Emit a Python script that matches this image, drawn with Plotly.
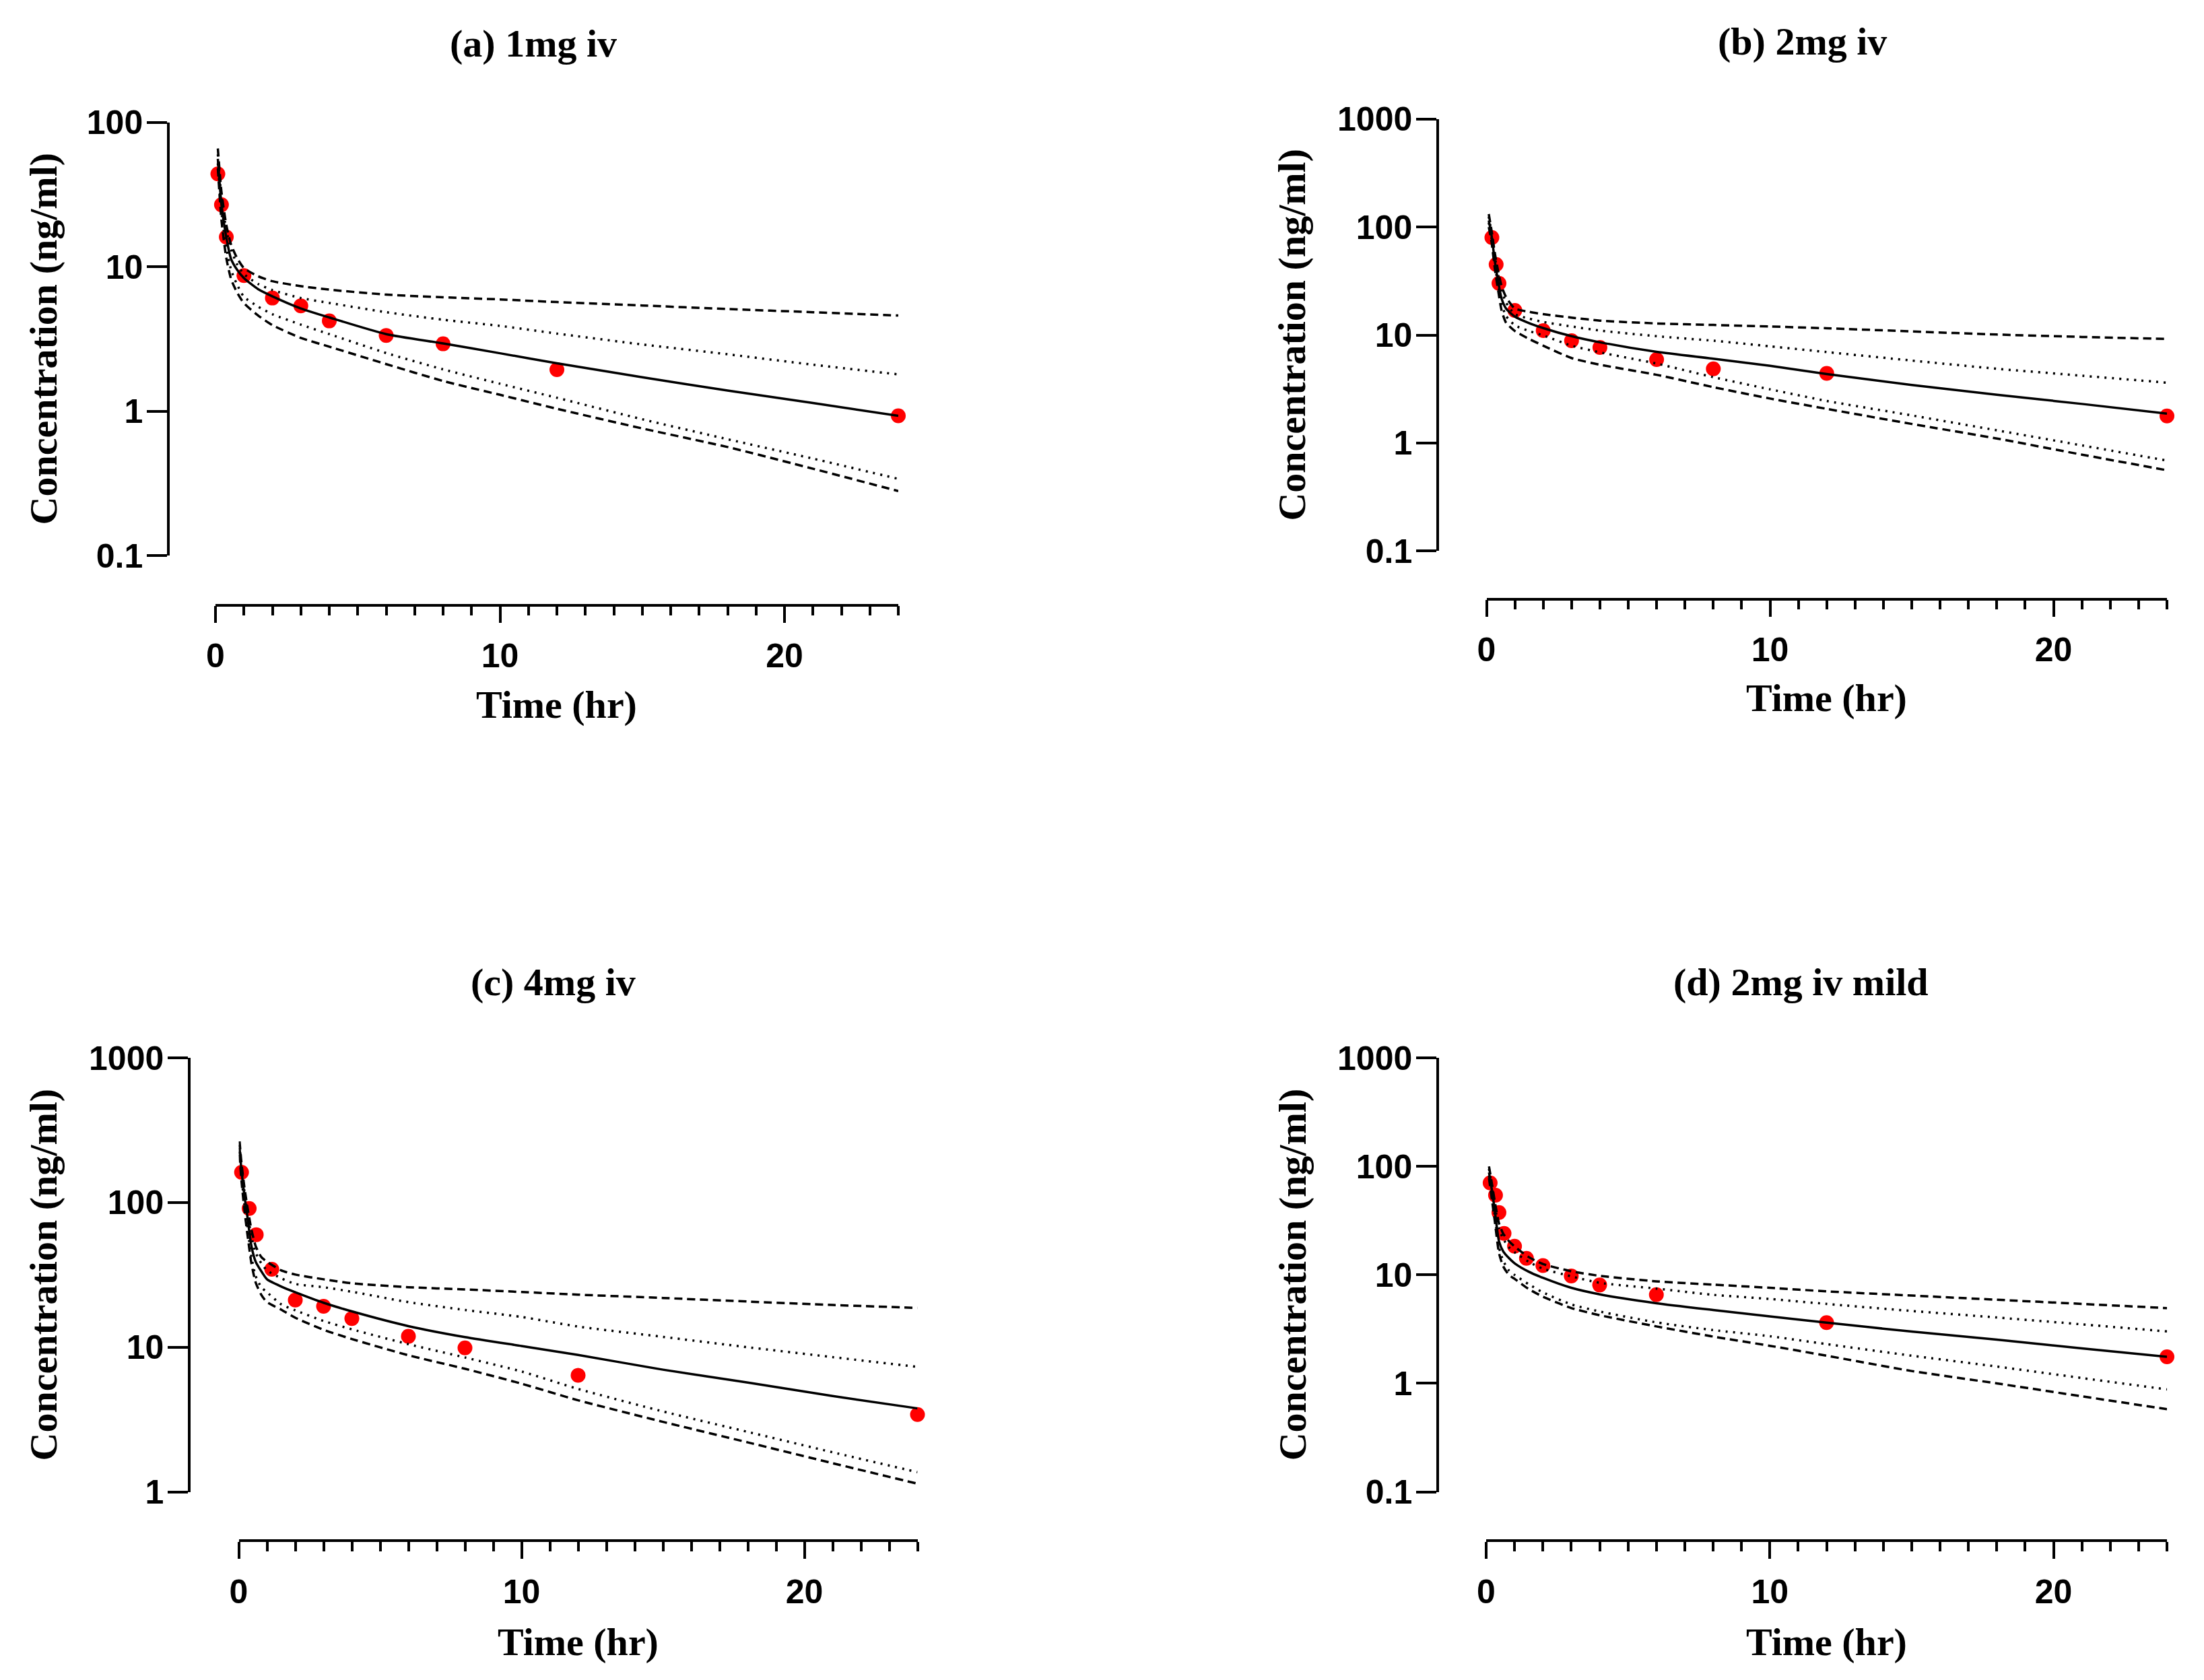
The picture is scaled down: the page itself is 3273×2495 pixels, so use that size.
import plotly.graph_objects as go

W, H = 3273, 2495

# ---------------- data ----------------
titles = ["(a) 1mg iv", "(b) 2mg iv", "(c) 4mg iv", "(d) 2mg iv mild"]

# (a) 1 mg iv
a_obs_t = [0.083, 0.21, 0.38, 1, 2, 3, 4, 6, 8, 12, 24]
a_obs_c = [44.0, 26.9, 16.1, 8.7, 6.08, 5.37, 4.22, 3.35, 2.93, 1.94, 0.93]
a_t = [0.083, 0.21, 0.38, 0.55, 0.75, 1, 1.5, 2, 3, 4, 6, 8, 10, 12, 15, 18, 21, 24]
a_med = [56, 27, 16, 11.3, 9.6, 8.35, 7.0, 6.25, 5.15, 4.46, 3.42, 2.95, 2.52, 2.15, 1.72, 1.39, 1.14, 0.93]
a_p95 = [66, 33, 19.5, 14.2, 11.6, 9.8, 8.6, 7.95, 7.35, 6.95, 6.42, 6.15, 5.95, 5.7, 5.4, 5.1, 4.85, 4.6]
a_p90 = [60, 30, 18, 13.2, 10.5, 8.9, 7.6, 6.9, 6.08, 5.62, 4.85, 4.3, 3.9, 3.45, 2.9, 2.48, 2.1, 1.8]
a_p10 = [52, 24, 13.5, 9.5, 7.6, 6.2, 5.3, 4.7, 3.98, 3.42, 2.53, 1.95, 1.55, 1.24, 0.88, 0.64, 0.47, 0.34]
a_p05 = [48, 21, 11.5, 8.2, 6.7, 5.6, 4.6, 3.95, 3.22, 2.8, 2.12, 1.62, 1.3, 1.04, 0.76, 0.565, 0.4, 0.28]

# (b) 2 mg iv
b_obs_t = [0.19, 0.34, 0.44, 1, 2, 3, 4, 6, 8, 12, 24]
b_obs_c = [80.0, 45.1, 30.1, 16.9, 11.0, 8.85, 7.67, 5.92, 4.86, 4.41, 1.78]
b_t = [0.08, 0.18, 0.3, 0.42, 0.53, 0.69, 1, 1.5, 2, 3, 4, 6, 8, 10, 12, 15, 18, 21, 24]
b_med = [115, 83, 47, 30.4, 21.8, 17.6, 14.8, 12.9, 11.6, 9.75, 8.56, 6.98, 6.03, 5.18, 4.35, 3.45, 2.8, 2.3, 1.87]
b_p95 = [132, 92, 56, 38, 28.5, 22.5, 17.6, 16.4, 15.6, 14.5, 13.6, 12.8, 12.4, 12.0, 11.55, 10.8, 10.1, 9.6, 9.2]
b_p90 = [125, 88, 52, 35, 26, 20, 15.6, 14.2, 13.2, 12.0, 11.0, 9.75, 8.86, 7.86, 6.95, 5.8, 4.87, 4.2, 3.62]
b_p10 = [110, 78, 44, 28, 19.5, 15, 12.3, 10.9, 9.9, 7.97, 6.91, 5.44, 4.07, 3.14, 2.45, 1.8, 1.31, 0.95, 0.687]
b_p05 = [100, 72, 40, 25, 17, 13, 10.9, 9.2, 7.97, 6.12, 5.31, 4.28, 3.29, 2.58, 2.07, 1.5, 1.1, 0.78, 0.559]

# (c) 4 mg iv
c_obs_t = [0.1, 0.37, 0.62, 1.17, 2, 3, 4, 6, 8, 12, 24]
c_obs_c = [162, 91, 60, 34.6, 21.2, 19.2, 15.8, 11.9, 9.9, 6.4, 3.43]
c_t = [0.03, 0.1, 0.2, 0.3, 0.45, 0.6, 0.8, 1, 1.5, 2, 3, 4, 6, 8, 10, 12, 15, 18, 21, 24]
c_med = [240, 165, 112, 82, 50, 39, 33.5, 29.5, 26.3, 24.0, 20.3, 17.7, 14.0, 11.75, 10.2, 8.85, 7.0, 5.7, 4.6, 3.78]
c_p95 = [265, 185, 128, 95, 65, 50, 42, 39, 34, 31.8, 29.5, 27.7, 26.0, 25.1, 24.1, 23.1, 21.9, 20.7, 19.6, 18.7]
c_p90 = [250, 175, 120, 88, 58, 45, 38, 34, 30, 27.4, 26.0, 24.2, 20.5, 18.1, 16.2, 13.9, 11.8, 10.0, 8.55, 7.32]
c_p10 = [225, 150, 98, 70, 42, 31, 26, 24, 19.8, 18.0, 15.2, 13.3, 10.5, 8.5, 6.8, 5.15, 3.6, 2.6, 1.88, 1.37]
c_p05 = [215, 140, 90, 62, 38, 28, 23, 20.5, 18.2, 16.0, 13.2, 11.4, 8.8, 7.1, 5.6, 4.3, 3.05, 2.2, 1.58, 1.14]

# (d) 2 mg iv mild
d_obs_t = [0.14, 0.33, 0.45, 0.63, 1, 1.42, 2, 3, 4, 6, 12, 24]
d_obs_c = [70.4, 54.3, 37.6, 24.1, 18.4, 14.2, 12.2, 9.76, 8.07, 6.57, 3.63, 1.76]
d_t = [0.1, 0.2, 0.3, 0.45, 0.6, 0.8, 1, 1.5, 2, 3, 4, 6, 8, 10, 12, 15, 18, 21, 24]
d_med = [88, 61, 40, 20.5, 16.5, 14.3, 12.8, 10.7, 9.4, 7.6, 6.62, 5.48, 4.75, 4.15, 3.63, 3.0, 2.53, 2.1, 1.76]
d_p95 = [100, 70, 48, 30, 24, 20.5, 18.3, 14.6, 12.6, 10.8, 9.8, 8.72, 8.13, 7.6, 7.05, 6.45, 5.9, 5.4, 4.94]
d_p90 = [95, 66, 45, 27, 21.5, 18, 16.2, 13.2, 11.4, 9.7, 8.45, 7.48, 6.55, 6.0, 5.4, 4.65, 4.05, 3.5, 3.01]
d_p10 = [82, 55, 36, 18, 13.5, 11, 10.0, 8.2, 6.9, 5.35, 4.6, 3.65, 3.1, 2.72, 2.3, 1.8, 1.43, 1.12, 0.88]
d_p05 = [78, 50, 32, 16, 12, 10, 9.2, 7.4, 6.3, 4.95, 4.25, 3.35, 2.7, 2.22, 1.8, 1.3, 1.0, 0.76, 0.578]

y_ticks_a = [0.1, 1, 10, 100]
y_ticks_bd = [0.1, 1, 10, 100, 1000]
y_ticks_c = [1, 10, 100, 1000]
x_ticks = [0, 10, 20]

# ---------------- layout geometry (pixels) ----------------
panels = [
    dict(title=titles[0], ot=a_obs_t, oc=a_obs_c, t=a_t, med=a_med, p95=a_p95, p90=a_p90, p10=a_p10, p05=a_p05,
         yt=y_ticks_a, yr=[-1, 2], x0=320, x1=1334, ytop=181.8, ybot=825.2, yax=250, xax=898.6,
         tx=792, ty=64, ytx=64, xty=1046),
    dict(title=titles[1], ot=b_obs_t, oc=b_obs_c, t=b_t, med=b_med, p95=b_p95, p90=b_p90, p10=b_p10, p05=b_p05,
         yt=y_ticks_bd, yr=[-1, 3], x0=2207.5, x1=3218, ytop=176.9, ybot=818.2, yax=2135, xax=889.5,
         tx=2676, ty=62, ytx=1919, xty=1036),
    dict(title=titles[2], ot=c_obs_t, oc=c_obs_c, t=c_t, med=c_med, p95=c_p95, p90=c_p90, p10=c_p10, p05=c_p05,
         yt=y_ticks_c, yr=[0, 3], x0=354.5, x1=1362.5, ytop=1571.1, ybot=2215.7, yax=281, xax=2288.3,
         tx=821, ty=1458, ytx=64, xty=2438),
    dict(title=titles[3], ot=d_obs_t, oc=d_obs_c, t=d_t, med=d_med, p95=d_p95, p90=d_p90, p10=d_p10, p05=d_p05,
         yt=y_ticks_bd, yr=[-1, 3], x0=2207, x1=3218, ytop=1571.1, ybot=2215.6, yax=2135, xax=2288.3,
         tx=2674, ty=1458, ytx=1919, xty=2438),
]

fig = go.Figure()
annotations = []
layout = {}

tick_font = dict(family="Liberation Sans, Arial, sans-serif", size=50, color="black", weight="bold")
title_font = dict(family="Liberation Serif, Times New Roman, serif", size=58, color="black", weight="bold")

LW = 3.5
for i, p in enumerate(panels):
    sfx = "" if i == 0 else str(i + 1)
    xref, yref = "x" + sfx, "y" + sfx

    # observed points (drawn first so the lines sit on top)
    fig.add_trace(go.Scatter(x=p["ot"], y=p["oc"], mode="markers", xaxis=xref, yaxis=yref,
                             marker=dict(color="#FF0000", size=22, line=dict(width=0)),
                             cliponaxis=False, showlegend=False))
    for key, dash in [("p95", "12px,7px"), ("p05", "12px,7px"), ("p90", "3px,8px"), ("p10", "3px,8px"), ("med", "solid")]:
        fig.add_trace(go.Scatter(x=p["t"], y=p[key], mode="lines", xaxis=xref, yaxis=yref,
                                 line=dict(color="black", width=LW, dash=dash, shape="spline", smoothing=0.6),
                                 cliponaxis=False, showlegend=False))

    layout["xaxis" + sfx] = dict(
        domain=[p["x0"] / W, p["x1"] / W], range=[0, 24], anchor="free", position=1 - p["xax"] / H,
        showline=True, linecolor="black", linewidth=LW, showgrid=False, zeroline=False, automargin=False,
        tickmode="array", tickvals=x_ticks, ticktext=[str(v) for v in x_ticks],
        ticks="outside", ticklen=25, tickwidth=LW, tickcolor="black", tickfont=tick_font,
        ticklabelstandoff=6,
        minor=dict(ticks="outside", tick0=0, dtick=1, ticklen=14, tickwidth=LW, tickcolor="black", showgrid=False),
    )
    layout["yaxis" + sfx] = dict(
        type="log", range=p["yr"], domain=[1 - p["ybot"] / H, 1 - p["ytop"] / H],
        anchor="free", position=p["yax"] / W, automargin=False,
        showline=True, linecolor="black", linewidth=LW, showgrid=False, zeroline=False,
        tickmode="array", tickvals=p["yt"], ticktext=[("%g" % v) for v in p["yt"]],
        ticks="outside", ticklen=30, tickwidth=LW, tickcolor="black", tickfont=tick_font,
        ticklabelstandoff=-4,
    )

    annotations.append(dict(text=p["title"], x=p["tx"] / W, y=1 - p["ty"] / H, xref="paper", yref="paper",
                            xanchor="center", yanchor="middle", showarrow=False, font=title_font))
    annotations.append(dict(text="Concentration (ng/ml)", x=p["ytx"] / W, y=1 - (p["ytop"] + p["ybot"]) / 2 / H,
                            xref="paper", yref="paper", xanchor="center", yanchor="middle", textangle=-90,
                            showarrow=False, font=title_font))
    annotations.append(dict(text="Time (hr)", x=(p["x0"] + p["x1"]) / 2 / W, y=1 - p["xty"] / H,
                            xref="paper", yref="paper", xanchor="center", yanchor="middle",
                            showarrow=False, font=title_font))

fig.update_layout(
    width=W, height=H, autosize=False,
    margin=dict(l=0, r=0, t=0, b=0, pad=0, autoexpand=False),
    paper_bgcolor="white", plot_bgcolor="white",
    showlegend=False, annotations=annotations, **layout,
)

fig.write_html("out.html", config={"displayModeBar": False},
               post_script="document.body.style.margin='0px';")
